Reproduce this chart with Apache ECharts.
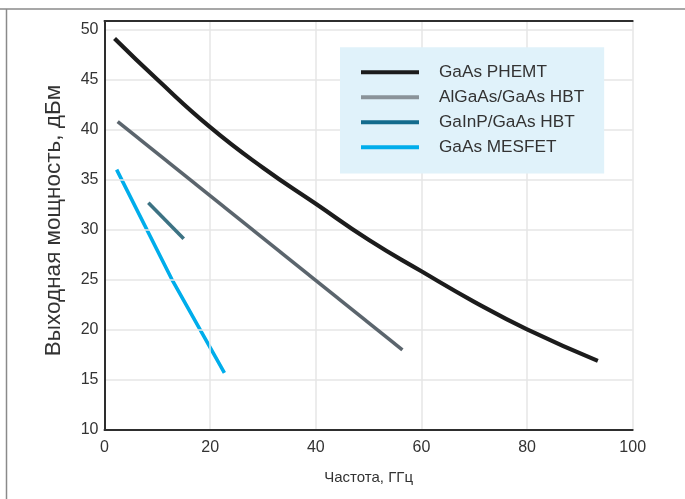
<!DOCTYPE html>
<html>
<head>
<meta charset="utf-8">
<script src="https://cdn.jsdelivr.net/npm/echarts@6/dist/echarts.min.js"></script>
<style>
html,body{margin:0;padding:0;background:#fff;}
#c{width:685px;height:499px;}
</style>
</head>
<body>
<div id="c"></div>
<script>
// ---- data ----
var seriesNames = ['GaAs PHEMT', 'AlGaAs/GaAs HBT', 'GaInP/GaAs HBT', 'GaAs MESFET'];
var phemt = [[1.9,49.1],[10,45.0],[20,40.25],[30,36.2],[40,32.6],[50,29.0],[60,25.85],[70,22.8],[80,20.05],[93.4,16.9]];
var algaas = [[2.5,40.8],[56.4,18.0]];
var gainp = [[8.3,32.7],[15.0,29.1]];
var mesfet = [[2.3,36.0],[12.7,25.1],[22.7,15.7]];
var xTicks = [0, 20, 40, 60, 80, 100];
var yTicks = [10, 15, 20, 25, 30, 35, 40, 45, 50];
var xTitle = 'Частота, ГГц';
var yTitle = 'Выходная мощность, дБм';

var lineColors = ['#1c1c1c', '#5b656d', '#3c7283', '#00adeb'];
var legendColors = ['#1c1c1c', '#8a9399', '#136b8c', '#00adeb'];
var lineWidths = [4.2, 3.6, 3.6, 3.6];
var datasets = [phemt, algaas, gainp, mesfet];

var FONT = '"Liberation Sans", Arial, sans-serif';
var chart = echarts.init(document.getElementById('c'), null, {renderer: 'canvas'});

var series = datasets.map(function (d, i) {
  return {
    name: seriesNames[i],
    type: 'line',
    data: d,
    smooth: i === 0 ? 0.5 : false,
    showSymbol: false,
    symbol: 'none',
    lineStyle: {color: lineColors[i], width: lineWidths[i], cap: 'butt', join: 'round'},
    itemStyle: {color: lineColors[i]},
    z: 5 - i
  };
});

var frameAxisLine = {show: true, lineStyle: {color: '#2e2e2e', width: 2}};

chart.setOption({
  backgroundColor: '#ffffff',
  animation: false,
  grid: {left: 104.5, right: 52.3, top: 21, bottom: 69, show: false},
  legend: {
    left: 340, top: 47.3,
    orient: 'vertical',
    backgroundColor: '#e0f2fa',
    padding: [12.5, 20, 13.8, 21],
    itemGap: 0,
    itemWidth: 58,
    itemHeight: 4,
    icon: 'rect',
    textStyle: {fontFamily: FONT, fontSize: 17.2, color: '#333', lineHeight: 25, padding: [0, 0, 0, 15]},
    data: seriesNames.map(function (n, i) {
      return {name: n, itemStyle: {color: legendColors[i]}};
    })
  },
  xAxis: [{
    type: 'value',
    min: xTicks[0], max: xTicks[xTicks.length - 1], interval: xTicks[1] - xTicks[0],
    name: xTitle, nameLocation: 'middle', nameGap: 40,
    nameTextStyle: {fontFamily: FONT, fontSize: 15, color: '#333'},
    axisLine: frameAxisLine,
    axisTick: {show: false},
    axisLabel: {fontFamily: FONT, fontSize: 16, color: '#333', margin: 10},
    splitLine: {show: true, lineStyle: {color: '#e6e6e6', width: 1.5}},
    z: 3
  }, {
    type: 'value', position: 'top',
    min: xTicks[0], max: xTicks[xTicks.length - 1], interval: xTicks[1] - xTicks[0],
    axisLine: frameAxisLine, axisTick: {show: false}, axisLabel: {show: false}, splitLine: {show: false},
    z: 10
  }],
  yAxis: [{
    type: 'value',
    min: yTicks[0], max: 50.85, interval: yTicks[1] - yTicks[0],
    name: yTitle, nameLocation: 'middle', nameGap: 39,
    nameTextStyle: {fontFamily: FONT, fontSize: 22.5, color: '#333', padding: [0, 0, 0, 10]},
    axisLine: frameAxisLine,
    axisTick: {show: false},
    axisLabel: {fontFamily: FONT, fontSize: 16, color: '#333', margin: 6, showMaxLabel: false,
      formatter: function (v) { return yTicks.indexOf(v) >= 0 ? String(v) : ''; }},
    splitLine: {show: true, lineStyle: {color: '#e6e6e6', width: 1.5}},
    z: 3
  }, {
    type: 'value', position: 'right',
    min: yTicks[0], max: 50.85, interval: yTicks[1] - yTicks[0],
    axisLine: frameAxisLine, axisTick: {show: false}, axisLabel: {show: false}, splitLine: {show: false},
    z: 10
  }],
  graphic: [
    {type: 'line', shape: {x1: 0, y1: 9, x2: 685, y2: 9}, style: {stroke: '#8a8a8a', lineWidth: 1.5}, silent: true},
    {type: 'line', shape: {x1: 6.5, y1: 9, x2: 6.5, y2: 499}, style: {stroke: '#8a8a8a', lineWidth: 1.5}, silent: true}
  ],
  series: series
});
</script>
</body>
</html>
